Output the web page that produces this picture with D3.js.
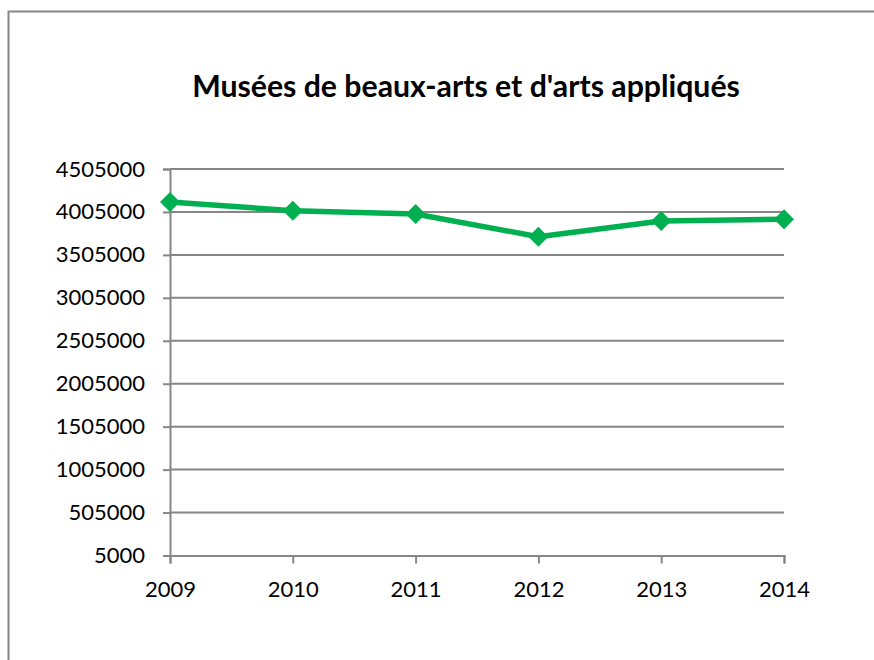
<!DOCTYPE html>
<html>
<head>
<meta charset="utf-8">
<script src="https://cdn.jsdelivr.net/npm/d3@7"></script>
<style>
  body { margin: 0; background: #fff; }
  svg { display: block; }
</style>
</head>
<body>
<script>
// data
const years = ["2009", "2010", "2011", "2012", "2013", "2014"];
const visitors = [4122000, 4019000, 3981000, 3717000, 3900000, 3919000];
const yTicks = [5000, 505000, 1005000, 1505000, 2005000, 2505000, 3005000, 3505000, 4005000, 4505000];
const title = "Musées de beaux-arts et d'arts appliqués";

const width = 874, height = 660;
const font = "Lato, 'Liberation Sans', sans-serif";
const grey = "#868686", green = "#00b050";

const svg = d3.select("body").append("svg")
    .attr("width", width)
    .attr("height", height);

// chart area border
svg.append("rect")
    .attr("x", 8.5).attr("y", 11.5)
    .attr("width", width + 10).attr("height", height + 10)
    .attr("fill", "none")
    .attr("stroke", grey)
    .attr("stroke-width", 2);

const x = d3.scalePoint().domain(years).range([170, 784]);
const y = d3.scaleLinear().domain([5000, 4505000]).range([555.5, 169]);

// title, sized to the reference width
const t = svg.append("text")
    .attr("x", 466).attr("y", 97)
    .attr("text-anchor", "middle")
    .attr("font-family", font)
    .attr("font-weight", "bold")
    .attr("font-size", 28)
    .attr("fill", "#000")
    .text(title);
const tw = t.node().getComputedTextLength();
t.attr("font-size", 28 * 548 / tw);

// gridlines
svg.append("g").selectAll("line")
    .data(yTicks.slice(1))
    .join("line")
    .attr("x1", 170).attr("x2", 784)
    .attr("y1", d => y(d)).attr("y2", d => y(d))
    .attr("stroke", grey)
    .attr("stroke-width", 2);

// y axis
const yAxis = svg.append("g")
    .attr("transform", "translate(170,0)")
    .call(d3.axisLeft(y).tickValues(yTicks).tickSize(7).tickPadding(18).tickFormat(d3.format("d")));

// x axis
const xAxis = svg.append("g")
    .attr("transform", "translate(0," + y(5000) + ")")
    .call(d3.axisBottom(x).tickSize(8).tickPadding(18));

[yAxis, xAxis].forEach(function(ax) {
    ax.select(".domain").attr("stroke", grey).attr("stroke-width", 2);
    ax.selectAll(".tick line").attr("stroke", grey).attr("stroke-width", 2);
    ax.selectAll(".tick text")
        .attr("font-family", font)
        .attr("font-size", 22)
        .attr("fill", "#000");
});

// series line
const line = d3.line()
    .x((d, i) => x(years[i]))
    .y(d => y(d));

svg.append("path")
    .datum(visitors)
    .attr("d", line)
    .attr("fill", "none")
    .attr("stroke", green)
    .attr("stroke-width", 5.5)
    .attr("stroke-linejoin", "round");

// diamond markers
svg.append("g").selectAll("path")
    .data(visitors)
    .join("path")
    .attr("transform", (d, i) => "translate(" + x(years[i]) + "," + y(d) + ")")
    .attr("d", "M0,-10L10,0L0,10L-10,0Z")
    .attr("fill", green);
</script>
</body>
</html>
